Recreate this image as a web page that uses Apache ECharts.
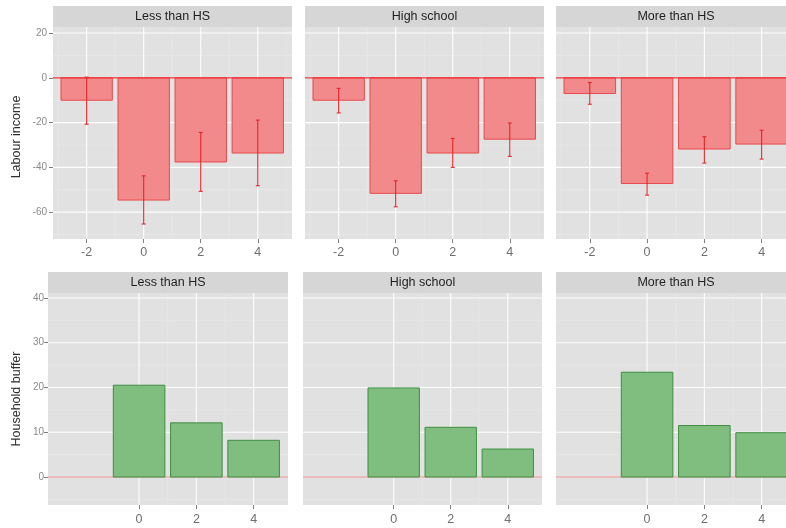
<!DOCTYPE html>
<html>
<head>
<meta charset="utf-8">
<script src="https://cdn.jsdelivr.net/npm/echarts@6/dist/echarts.min.js"></script>
<style>
  html, body { margin: 0; padding: 0; background: #ffffff; overflow: hidden; }
  #chart { width: 800px; height: 528px; }
</style>
</head>
<body>
<div id="chart"></div>
<script>
// ---- data ----
const groups = ['Less than HS', 'High school', 'More than HS'];

// Labour income response by year relative to the event
const incomeYears = [-2, 0, 2, 4];
const incomeLessHS     = [-10.0, -54.6, -37.6, -33.6];
const incomeLessHSLow  = [-20.7, -65.3, -50.7, -48.2];
const incomeLessHSHigh = [0.3, -43.8, -24.4, -18.9];
const incomeHighSchool     = [-10.0, -51.6, -33.6, -27.4];
const incomeHighSchoolLow  = [-15.7, -57.6, -40.0, -35.1];
const incomeHighSchoolHigh = [-4.7, -46.0, -27.1, -20.2];
const incomeMoreHS     = [-7.0, -47.2, -31.8, -29.6];
const incomeMoreHSLow  = [-11.8, -52.4, -38.1, -36.3];
const incomeMoreHSHigh = [-2.1, -42.6, -26.3, -23.4];

// Household buffer by year
const bufferYears = [0, 2, 4];
const bufferLessHS     = [20.5, 12.1, 8.2];
const bufferHighSchool = [19.9, 11.1, 6.25];
const bufferMoreHS     = [23.4, 11.5, 9.9];

// axis ticks
const incomeXTicks = [-2, 0, 2, 4];
const incomeXMinor = [-3, -1, 1, 3, 5];
const incomeYTicks = [-60, -40, -20, 0, 20];
const incomeYMinor = [-70, -50, -30, -10, 10];
const bufferXTicks = [0, 2, 4];
const bufferXMinor = [1, 3];
const bufferYTicks = [0, 10, 20, 30, 40];
const bufferYMinor = [-5, 5, 15, 25, 35];

const rowTitles = ['Labour income', 'Household buffer'];

// ---- layout & style ----
const BAR_WIDTH = 1.8;
const X_RANGE = [-3.18, 5.2];
const INCOME_Y_RANGE = [-72, 22.7];
const BUFFER_Y_RANGE = [-6.25, 41.1];
const FONT = '"Liberation Sans", Arial, sans-serif';
const PANEL_BG = '#E1E1E1';
const STRIP_BG = '#D6D6D6';
const TICK_COLOR = '#7F7F7F';

const panels = [
  { left: 53,  top: 27,  width: 239, height: 212 },
  { left: 305, top: 27,  width: 239, height: 212 },
  { left: 556, top: 27,  width: 240, height: 212 },
  { left: 48,  top: 293, width: 240, height: 212 },
  { left: 303, top: 293, width: 239, height: 212 },
  { left: 556, top: 293, width: 240, height: 212 }
];
const STRIP_H = 21;
const ROW_TITLE_POS = [{ x: 17, y: 137 }, { x: 17, y: 399 }];

const incomeSets = [
  [incomeLessHS, incomeLessHSLow, incomeLessHSHigh],
  [incomeHighSchool, incomeHighSchoolLow, incomeHighSchoolHigh],
  [incomeMoreHS, incomeMoreHSLow, incomeMoreHSHigh]
];
const bufferSets = [bufferLessHS, bufferHighSchool, bufferMoreHS];

function barRenderer(fill, stroke) {
  return function (params, api) {
    const x = api.value(0), y = api.value(1);
    const a = api.coord([x - BAR_WIDTH / 2, 0]);
    const b = api.coord([x + BAR_WIDTH / 2, y]);
    return {
      type: 'rect',
      shape: {
        x: Math.min(a[0], b[0]), y: Math.min(a[1], b[1]),
        width: Math.abs(b[0] - a[0]), height: Math.abs(b[1] - a[1])
      },
      style: { fill: fill, stroke: stroke, lineWidth: 1 }
    };
  };
}

function errorRenderer(params, api) {
  const x = api.value(0);
  const lo = api.coord([x, api.value(1)]);
  const hi = api.coord([x, api.value(2)]);
  const cap = 2;
  const st = { stroke: '#E3262B', lineWidth: 1.1 };
  return {
    type: 'group',
    children: [
      { type: 'line', shape: { x1: lo[0], y1: lo[1], x2: hi[0], y2: hi[1] }, style: st },
      { type: 'line', shape: { x1: lo[0] - cap, y1: lo[1], x2: lo[0] + cap, y2: lo[1] }, style: st },
      { type: 'line', shape: { x1: hi[0] - cap, y1: hi[1], x2: hi[0] + cap, y2: hi[1] }, style: st }
    ]
  };
}

// grid lines: [orientation (0 = vertical, 1 = horizontal), value, major flag]
function gridRenderer(params, api) {
  const cs = params.coordSys;
  const o = api.value(0), v = api.value(1), major = api.value(2);
  const style = major
    ? { stroke: '#FFFFFF', lineWidth: 1.1, opacity: 0.95 }
    : { stroke: '#EBEBEB', lineWidth: 0.6, opacity: 0.9 };
  if (o === 0) {
    const p = api.coord([v, 0]);
    return { type: 'line', shape: { x1: p[0], y1: cs.y, x2: p[0], y2: cs.y + cs.height }, style: style };
  }
  const p = api.coord([0, v]);
  return { type: 'line', shape: { x1: cs.x, y1: p[1], x2: cs.x + cs.width, y2: p[1] }, style: style };
}

function zeroLineRenderer(color, width) {
  return function (params, api) {
    const cs = params.coordSys;
    const p = api.coord([0, api.value(1)]);
    return { type: 'line', shape: { x1: cs.x, y1: p[1], x2: cs.x + cs.width, y2: p[1] }, style: { stroke: color, lineWidth: width } };
  };
}

function gridData(xMajor, xMinor, yMajor, yMinor) {
  const d = [];
  xMinor.forEach(v => d.push([0, v, 0]));
  yMinor.forEach(v => d.push([1, v, 0]));
  xMajor.forEach(v => d.push([0, v, 1]));
  yMajor.forEach(v => d.push([1, v, 1]));
  return d;
}

const grid = [], xAxis = [], yAxis = [], series = [], graphic = [];

panels.forEach((p, i) => {
  const isIncome = i < 3;
  const g = i % 3;
  grid.push({
    left: p.left, top: p.top, width: p.width, height: p.height,
    show: true, backgroundColor: PANEL_BG, borderWidth: 0, containLabel: false
  });
  const xt = isIncome ? incomeXTicks : bufferXTicks;
  xAxis.push({
    type: 'value', gridIndex: i, min: X_RANGE[0], max: X_RANGE[1],
    axisLine: { show: false, onZero: false },
    splitLine: { show: false },
    axisTick: { show: true, customValues: xt, length: 4, lineStyle: { color: TICK_COLOR, width: 1 } },
    axisLabel: { customValues: xt, color: '#6E6E6E', fontSize: 12.5, fontFamily: FONT, margin: isIncome ? 7 : 8 }
  });
  const yt = isIncome ? incomeYTicks : bufferYTicks;
  const yr = isIncome ? INCOME_Y_RANGE : BUFFER_Y_RANGE;
  const first = (g === 0);
  yAxis.push({
    type: 'value', gridIndex: i, min: yr[0], max: yr[1],
    axisLine: { show: false, onZero: false },
    splitLine: { show: false },
    axisTick: { show: first, customValues: yt, length: 4, lineStyle: { color: TICK_COLOR, width: 1 } },
    axisLabel: { show: first, customValues: yt, color: '#8A8A8A', fontSize: 10, fontFamily: FONT, margin: isIncome ? 6 : 4 }
  });

  // background grid lines
  series.push({
    type: 'custom', xAxisIndex: i, yAxisIndex: i, silent: true, z: 1,
    renderItem: gridRenderer,
    data: isIncome
      ? gridData(incomeXTicks, incomeXMinor, incomeYTicks, incomeYMinor)
      : gridData(bufferXTicks, bufferXMinor, bufferYTicks, bufferYMinor)
  });

  if (isIncome) {
    const [mean, low, high] = incomeSets[g];
    series.push({
      type: 'custom', xAxisIndex: i, yAxisIndex: i, z: 2,
      renderItem: barRenderer('#F28A8B', '#E8494C'),
      data: incomeYears.map((x, k) => [x, mean[k]])
    });
    series.push({
      type: 'custom', xAxisIndex: i, yAxisIndex: i, z: 3, silent: true,
      renderItem: zeroLineRenderer('#EE3136', 1.3),
      data: [[0, 0]]
    });
    series.push({
      type: 'custom', xAxisIndex: i, yAxisIndex: i, z: 4,
      renderItem: errorRenderer,
      data: incomeYears.map((x, k) => [x, low[k], high[k]])
    });
  } else {
    series.push({
      type: 'custom', xAxisIndex: i, yAxisIndex: i, z: 2, silent: true,
      renderItem: zeroLineRenderer('#E68A8A', 1),
      data: [[0, 0]]
    });
    const vals = bufferSets[g];
    series.push({
      type: 'custom', xAxisIndex: i, yAxisIndex: i, z: 3,
      renderItem: barRenderer('#80BE80', '#3F8D41'),
      data: bufferYears.map((x, k) => [x, vals[k]])
    });
  }

  // facet strip
  graphic.push({
    type: 'rect', silent: true,
    shape: { x: p.left, y: p.top - STRIP_H, width: p.width, height: STRIP_H },
    style: { fill: STRIP_BG }
  });
  graphic.push({
    type: 'text', silent: true,
    x: p.left + p.width / 2, y: p.top - STRIP_H / 2,
    style: {
      text: groups[g], fill: '#1E1E1E', font: '12.5px ' + FONT,
      align: 'center', verticalAlign: 'middle',
      textAlign: 'center', textVerticalAlign: 'middle'
    }
  });
});

// row titles (rotated y-axis titles)
rowTitles.forEach((t, r) => {
  graphic.push({
    type: 'text', silent: true,
    x: ROW_TITLE_POS[r].x, y: ROW_TITLE_POS[r].y, rotation: Math.PI / 2,
    style: {
      text: t, fill: '#2E2E2E', font: '12.5px ' + FONT,
      align: 'center', verticalAlign: 'middle',
      textAlign: 'center', textVerticalAlign: 'middle'
    }
  });
});

const chart = echarts.init(document.getElementById('chart'), null, { renderer: 'canvas' });
chart.setOption({
  backgroundColor: '#FFFFFF',
  animation: false,
  grid: grid,
  xAxis: xAxis,
  yAxis: yAxis,
  series: series,
  graphic: graphic
});
</script>
</body>
</html>
